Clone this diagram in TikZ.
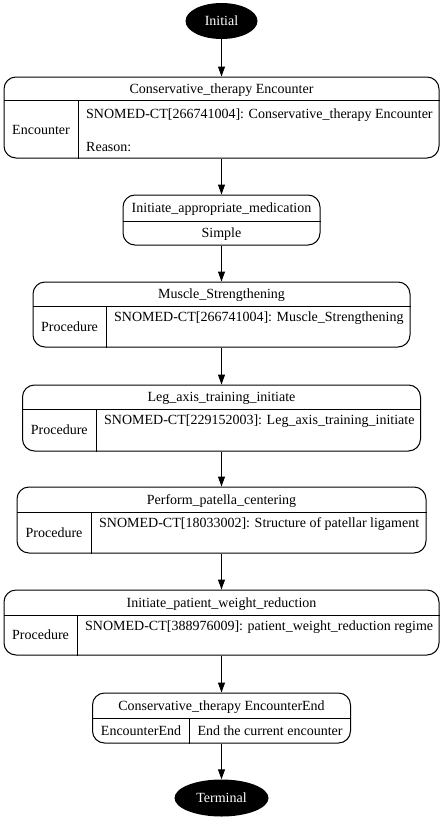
\documentclass[tikz,border=0pt]{standalone}
\usepackage{fontspec}
\setmainfont{Liberation Serif}
\usetikzlibrary{arrows.meta,shapes.geometric}

\begin{document}
\begin{tikzpicture}[x=1pt,y=-1pt,
  every node/.style={font=\fontsize{14}{16}\selectfont},
  stepbox/.style={draw,rounded corners=12pt,inner sep=0pt,line width=1pt},
  term/.style={ellipse,fill=black,text=white,inner sep=0pt},
  txt/.style={inner sep=0pt,text height=9.3pt,text depth=0pt},
  flow/.style={-{Triangle[length=10pt,width=7pt]},line width=1pt}]
  \useasboundingbox (0,0) rectangle (444,819);

  % start and end
  \node[term,minimum width=72pt,minimum height=36pt] (init) at (221.5,21) {Initial};
  \node[term,minimum width=94pt,minimum height=37pt] (term) at (221.5,798) {Terminal};

  % encounter
  \node[stepbox,minimum width=435pt,minimum height=81pt] (enc) at (221.5,117.5) {};
  \draw[line width=1pt] (enc.west |- 0,100) -- (enc.east |- 0,100);
  \draw[line width=1pt] (78,100) -- (78,0 |- enc.south);
  \node[txt] (enct) at (221.5,89) {Conservative\_therapy Encounter};
  \node[txt] (encl) at (41,130) {Encounter};
  \node[txt,anchor=west] (encs) at (86,114) {SNOMED-CT[266741004]: Conservative\_therapy Encounter};
  \node[txt,anchor=west] (encr) at (86,147) {Reason:};

  % medication
  \node[stepbox,minimum width=197pt,minimum height=50pt] (med) at (221.5,220) {};
  \draw[line width=1pt] (med.west |- 0,221) -- (med.east |- 0,221);
  \node[txt] (medt) at (221.5,208) {Initiate\_appropriate\_medication};
  \node[txt] (meds) at (221.5,233) {Simple};

  % procedures
  \foreach \n/\cy/\w/\h/\dy/\vx/\ttl/\code in {
    mus/314.5/377/65/306/106/{Muscle\_Strengthening}/{SNOMED-CT[266741004]: Muscle\_Strengthening},
    leg/418/398/66/409/96/{Leg\_axis\_training\_initiate}/{SNOMED-CT[229152003]: Leg\_axis\_training\_initiate},
    pat/520/409/66/512/91/{Perform\_patella\_centering}/{SNOMED-CT[18033002]: Structure of patellar ligament},
    wt/622.5/435/65/615/77/{Initiate\_patient\_weight\_reduction}/{SNOMED-CT[388976009]: patient\_weight\_reduction regime}}{
    \node[stepbox,minimum width=\w pt,minimum height=\h pt] (\n) at (221.5,\cy) {};
    \draw[line width=1pt] (\n.west |- 0,\dy) -- (\n.east |- 0,\dy);
    \draw[line width=1pt] (\vx,\dy) -- (\vx,0 |- \n.south);
    \node[txt] (\n t) at (221.5,{(\cy-\h/2+\dy)/2}) {\ttl};
    \node[txt] (\n l) at ({(221.5-\w/2+\vx)/2},{(\dy+\cy+\h/2)/2}) {Procedure};
    \node[txt,anchor=west] (\n s) at (\vx+8,\dy+11) {\code};
  }

  % encounter end
  \node[stepbox,minimum width=258pt,minimum height=50pt] (fin) at (221.5,718) {};
  \draw[line width=1pt] (fin.west |- 0,718) -- (fin.east |- 0,718);
  \draw[line width=1pt] (189,718) -- (189,0 |- fin.south);
  \node[txt] (fint) at (221.5,705.5) {Conservative\_therapy EncounterEnd};
  \node[txt] (finl) at (141,730.5) {EncounterEnd};
  \node[txt] (finr) at (270,730.5) {End the current encounter};

  \foreach \a/\b in {init/enc,enc/med,med/mus,mus/leg,leg/pat,pat/wt,wt/fin,fin/term}
    \draw[flow] (\a) -- (\b);
\end{tikzpicture}
\end{document}
